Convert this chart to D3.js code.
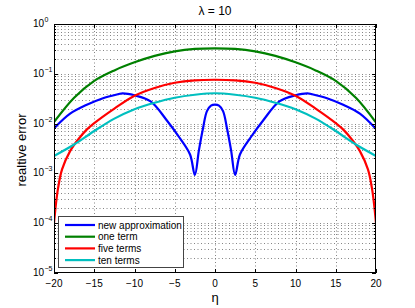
<!DOCTYPE html>
<html>
<head>
<meta charset="utf-8">
<script src="https://cdn.jsdelivr.net/npm/d3@7"></script>
<style>
  body { margin: 0; background: #fff; }
  text { font-family: "Liberation Sans", Arial, sans-serif; fill: #000; }
</style>
</head>
<body>
<div id="chart"></div>
<script>
// values (relative error vs eta)
var etaBlue = [-20, -18, -16, -14, -12, -11.5, -10, -8, -6, -4.4, -3.1, -2.5, -2, -1.5, -1, -0.5, 0,
               0.5, 1, 1.5, 2, 2.5, 3.1, 4.4, 6, 8, 10, 11.5, 12, 14, 16, 18, 20];
var newApprox = [0.0080, 0.0158, 0.0236, 0.032, 0.039, 0.0405, 0.037, 0.028, 0.0117, 0.0052, 0.0024, 0.00093, 0.0029, 0.0079, 0.0178, 0.0229, 0.024,
                 0.0229, 0.0178, 0.0079, 0.0029, 0.00093, 0.0024, 0.0052, 0.0117, 0.028, 0.037, 0.0405, 0.039, 0.032, 0.0236, 0.0158, 0.0078];

var etaGreen = [-20, -17.5, -15, -12.5, -10, -7.5, -5, -2.5, 0, 2.5, 5, 7.5, 10, 12.5, 15, 17.5, 20];
var oneTerm = [0.0107, 0.033, 0.072, 0.117, 0.17, 0.229, 0.282, 0.316, 0.325, 0.316, 0.282, 0.229, 0.17, 0.117, 0.072, 0.033, 0.0105];

var etaRed = [-20, -19.75, -19.5, -19, -18, -17, -16, -15, -12.5, -10, -7.5, -5, -2.5, 0,
              2.5, 5, 7.5, 10, 12.5, 15, 16, 17, 18, 19, 19.5, 19.75, 20];
var fiveTerms = [0.0001, 0.00025, 0.0005, 0.0012, 0.0028, 0.0048, 0.0074, 0.0102, 0.020, 0.0363, 0.052, 0.066, 0.074, 0.076,
                 0.074, 0.066, 0.052, 0.0363, 0.020, 0.0102, 0.0074, 0.0048, 0.0028, 0.0012, 0.0005, 0.00025, 0.0001];

var etaCyan = [-20, -17.5, -15, -12.5, -10, -7.5, -5, -2.5, 0, 2.5, 5, 7.5, 10, 12.5, 15, 17.5, 20];
var tenTerms = [0.00224, 0.0038, 0.0071, 0.0126, 0.0195, 0.0263, 0.0331, 0.038, 0.0407, 0.038, 0.0331, 0.0263, 0.0195, 0.0126, 0.0071, 0.0038, 0.00224];

var xTicks = [-20, -15, -10, -5, 0, 5, 10, 15, 20];
var yTicks = [1e-5, 1e-4, 1e-3, 1e-2, 1e-1, 1];
var yExps = ["\u22125", "\u22124", "\u22123", "\u22122", "\u22121", "0"];
var names = ["new approximation", "one term", "five terms", "ten terms"];
var colors = ["#0000ff", "#008000", "#ff0000", "#00bfbf"];

var width = 415, height = 308;
var plotL = 54, plotR = 376, plotT = 24, plotB = 273;

var x = d3.scaleLinear().domain([-20, 20]).range([plotL, plotR]);
var y = d3.scaleLog().domain([1e-5, 1]).range([plotB, plotT]);

var svg = d3.select('#chart').append('svg')
  .attr('width', width)
  .attr('height', height);

svg.append('rect').attr('width', width).attr('height', height).attr('fill', '#fff');

// grid
var grid = svg.append('g').attr('stroke', '#666').attr('stroke-width', 0.8)
  .attr('stroke-dasharray', '1,2.5');
grid.selectAll('.vg').data(xTicks.slice(1, -1)).enter().append('line')
  .attr('x1', d => Math.round(x(d)) + 0.5).attr('x2', d => Math.round(x(d)) + 0.5)
  .attr('y1', plotT).attr('y2', plotB);
var minor = y.ticks().filter(d => d > 1e-5 && d < 1);
grid.selectAll('.hg').data(minor).enter().append('line')
  .attr('x1', plotL).attr('x2', plotR)
  .attr('y1', d => Math.round(y(d)) + 0.5).attr('y2', d => Math.round(y(d)) + 0.5);

// curves
svg.append('clipPath').attr('id', 'clip').append('rect')
  .attr('x', plotL).attr('y', plotT).attr('width', plotR - plotL).attr('height', plotB - plotT);

var series = [
  { eta: etaBlue, v: newApprox },
  { eta: etaGreen, v: oneTerm },
  { eta: etaRed, v: fiveTerms },
  { eta: etaCyan, v: tenTerms }
];
var line = d3.line().curve(d3.curveCatmullRom.alpha(0.5));
var plot = svg.append('g').attr('clip-path', 'url(#clip)');
series.forEach(function(s, i) {
  var pts = s.eta.map((e, j) => [x(e), y(s.v[j])]);
  plot.append('path')
    .attr('d', line(pts))
    .attr('fill', 'none')
    .attr('stroke', colors[i])
    .attr('stroke-width', 2.2)
    .attr('stroke-linejoin', 'round');
});

// ticks (inside) and box
var tk = svg.append('g').attr('stroke', '#000').attr('stroke-width', 1);
xTicks.forEach(function(d) {
  var px = Math.round(x(d)) + 0.5;
  tk.append('line').attr('x1', px).attr('x2', px).attr('y1', plotB).attr('y2', plotB - 4);
  tk.append('line').attr('x1', px).attr('x2', px).attr('y1', plotT).attr('y2', plotT + 4);
});
y.ticks().forEach(function(d) {
  var py = Math.round(y(d)) + 0.5;
  var major = yTicks.indexOf(d) >= 0;
  var len = major ? 4 : 2;
  tk.append('line').attr('x1', plotL).attr('x2', plotL + len).attr('y1', py).attr('y2', py);
  tk.append('line').attr('x1', plotR).attr('x2', plotR - len).attr('y1', py).attr('y2', py);
});
svg.append('rect')
  .attr('x', plotL + 0.5).attr('y', plotT + 0.5)
  .attr('width', plotR - plotL - 1).attr('height', plotB - plotT - 1)
  .attr('fill', 'none').attr('stroke', '#000').attr('stroke-width', 1);

// tick labels
svg.selectAll('.xl').data(xTicks).enter().append('text')
  .attr('x', d => x(d)).attr('y', 287)
  .attr('text-anchor', 'middle').attr('font-size', 10)
  .text(d => d < 0 ? '\u2212' + Math.abs(d) : d);

yTicks.forEach(function(d, i) {
  var py = y(d);
  svg.append('text').attr('x', 44).attr('y', py + 3)
    .attr('text-anchor', 'end').attr('font-size', 10).text('10');
  svg.append('text').attr('x', 44.5).attr('y', py - 2)
    .attr('font-size', 7).text(yExps[i]);
});

// titles
svg.append('text').attr('x', 215).attr('y', 15)
  .attr('text-anchor', 'middle').attr('font-size', 12).text('\u03bb = 10');
svg.append('text').attr('x', 215).attr('y', 302)
  .attr('text-anchor', 'middle').attr('font-size', 13).text('\u03b7');
svg.append('text')
  .attr('transform', 'translate(26,150) rotate(-90)')
  .attr('text-anchor', 'middle').attr('font-size', 13).text('realtive error');

// legend
var lg = svg.append('g');
lg.append('rect').attr('x', 58.5).attr('y', 216.5).attr('width', 125).attr('height', 51)
  .attr('fill', '#fff').attr('stroke', '#444').attr('stroke-width', 1);
names.forEach(function(n, i) {
  var ly = 225 + i * 11.7;
  lg.append('line').attr('x1', 65).attr('x2', 95).attr('y1', ly).attr('y2', ly)
    .attr('stroke', colors[i]).attr('stroke-width', 2.2);
  lg.append('text').attr('x', 98).attr('y', ly + 3.5).attr('font-size', 10).text(n);
});
</script>
</body>
</html>
